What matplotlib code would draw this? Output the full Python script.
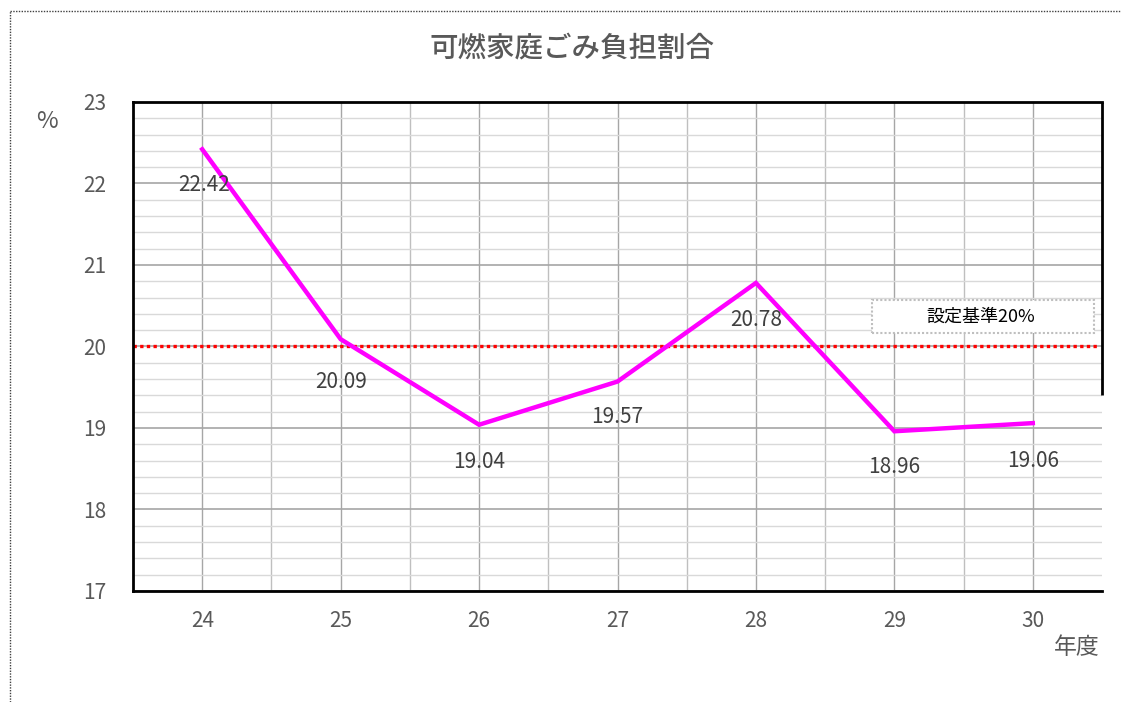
import matplotlib
matplotlib.use("Agg")
import matplotlib.pyplot as plt
from matplotlib.ticker import MultipleLocator
from matplotlib.lines import Line2D
from matplotlib.patches import Rectangle

plt.rcParams['font.family'] = ['Noto Sans CJK JP', 'DejaVu Sans']

years = ["24", "25", "26", "27", "28", "29", "30"]
ratios = [22.42, 20.09, 19.04, 19.57, 20.78, 18.96, 19.06]
standard = 20.0
title = "可燃家庭ごみ負担割合"
standard_label = "設定基準20%"
y_unit = "%"
x_unit = "年度"

# label offsets in points (dx, dy) relative to each data point
label_offsets = [(1, -26), (0, -31), (0, -27), (0, -25.5), (0, -27), (0, -26), (0, -27)]

W, H = 1121, 702
fig = plt.figure(figsize=(W / 100, H / 100), dpi=100)
ax = fig.add_axes([133 / W, 1 - 591 / H, (1102 - 133) / W, (591 - 102) / H])

x = list(range(len(years)))
ax.set_xlim(-0.5, len(years) - 0.5)
ax.set_ylim(17, 23)

# grid
ax.yaxis.set_major_locator(MultipleLocator(1))
ax.yaxis.set_minor_locator(MultipleLocator(0.2))
ax.set_xticks(x)
ax.set_xticks([i + 0.5 for i in x[:-1]], minor=True)
ax.grid(which='major', axis='y', color='#a6a6a6', linewidth=1.2)
ax.grid(which='minor', axis='y', color='#d9d9d9', linewidth=1.0)
ax.grid(which='major', axis='x', color='#a6a6a6', linewidth=1.0)
ax.grid(which='minor', axis='x', color='#bfbfbf', linewidth=1.0)
ax.set_axisbelow(True)

ax.set_xticklabels(years)
ax.tick_params(axis='both', which='both', length=0, labelsize=15, labelcolor='#595959')
ax.tick_params(axis='y', pad=19)
ax.tick_params(axis='x', pad=14)

for side in ['left', 'bottom', 'top']:
    ax.spines[side].set_color('black')
    ax.spines[side].set_linewidth(2)
ax.spines['right'].set_visible(False)
# partial right border
ax.plot([1, 1], [1, 1 - (395 - 102) / (591 - 102)], transform=ax.transAxes,
        color='black', linewidth=2, clip_on=False, solid_capstyle='butt')

# standard line
ax.axhline(standard, xmin=0, xmax=(1098 - 133) / (1102 - 133), color='#ff0000',
           linewidth=2.4, linestyle=(0, (1, 1)))

# data line
ax.plot(x, ratios, color='#ff00ff', linewidth=3.2, solid_joinstyle='miter', zorder=5)

for xi, v, (dx, dy) in zip(x, ratios, label_offsets):
    ax.annotate(f"{v:.2f}", (xi, v), xytext=(dx, dy), textcoords='offset points',
                ha='center', va='center', fontsize=15, color='#404040', zorder=6)

# standard label box
fig.add_artist(Rectangle((872 / W, 1 - 333 / H), (1094 - 872) / W, 33 / H,
                         transform=fig.transFigure, facecolor='white', edgecolor='#bfbfbf',
                         linestyle=(0, (1, 1)), linewidth=1.5, zorder=7))
fig.text(981 / W, 1 - 317 / H, standard_label, ha='center', va='center', fontsize=13,
         color='black', zorder=8)

fig.text(572 / W, 1 - 48 / H, title, ha='center', va='center', fontsize=20.5,
         color='#595959', fontweight='medium')
fig.text(47 / W, 1 - 122 / H, y_unit, ha='center', va='center', fontsize=17, color='#595959')
fig.text(1077 / W, 1 - 647 / H, x_unit, ha='center', va='center', fontsize=16.5, color='#595959')

# outer dotted frame
fig.add_artist(Line2D([10 / W, 1], [1 - 11 / H, 1 - 11 / H], transform=fig.transFigure,
                      color='#404040', linewidth=1, linestyle=(0, (1, 1))))
fig.add_artist(Line2D([10 / W, 10 / W], [0, 1 - 11 / H], transform=fig.transFigure,
                      color='#404040', linewidth=1, linestyle=(0, (1, 1))))

fig.savefig("out.png", dpi=100)
